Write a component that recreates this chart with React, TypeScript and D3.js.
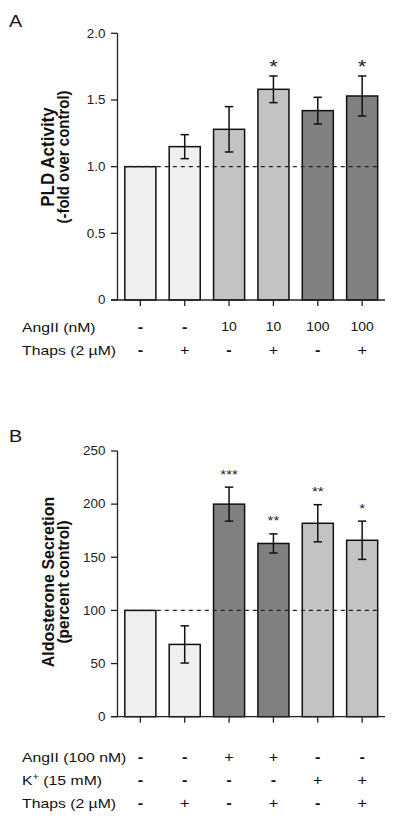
import React from "react";
import * as d3 from "d3";

// ---------- Panel A data ----------
const aIndex = [0, 1, 2, 3, 4, 5];
const aAngII = ["-", "-", "10", "10", "100", "100"];
const aThaps = ["-", "+", "-", "+", "-", "+"];
const aValues = [1.0, 1.15, 1.28, 1.58, 1.42, 1.53];
const aErrors = [0, 0.09, 0.17, 0.1, 0.1, 0.15];
const aStars = ["", "", "", "*", "", "*"];
const aGroups = ["control", "control", "AngII 10", "AngII 10", "AngII 100", "AngII 100"];
const aTicks = [0, 0.5, 1.0, 1.5, 2.0];
const aTickLabels = ["0", "0.5", "1.0", "1.5", "2.0"];
const aRowLabels = ["AngII (nM)", "Thaps (2 \u00B5M)"];

// ---------- Panel B data ----------
const bIndex = [0, 1, 2, 3, 4, 5];
const bAngII = ["-", "-", "+", "+", "-", "-"];
const bK = ["-", "-", "-", "-", "+", "+"];
const bThaps = ["-", "+", "-", "+", "-", "+"];
const bValues = [100, 68, 200, 163, 182, 166];
const bErrors = [0, 17.5, 16, 9, 17.5, 18];
const bStars = ["", "", "***", "**", "**", "*"];
const bGroups = ["control", "control", "AngII", "AngII", "K", "K"];
const bTicks = [0, 50, 100, 150, 200, 250];
const bTickLabels = ["0", "50", "100", "150", "200", "250"];
const bRowLabels = ["AngII (100 nM)", "K", "Thaps (2 \u00B5M)"];

const FONT = "'Liberation Sans', Arial, Helvetica, sans-serif";
const SX = 1.16; // horizontal widening of glyphs seen in the reference

const colorA = d3
  .scaleOrdinal<string, string>()
  .domain(["control", "AngII 10", "AngII 100"])
  .range(["#efefef", "#c3c3c3", "#808080"]);
const colorB = d3
  .scaleOrdinal<string, string>()
  .domain(["control", "AngII", "K"])
  .range(["#efefef", "#808080", "#c3c3c3"]);

function HText(props: {
  x: number;
  y: number;
  size: number;
  anchor?: string;
  weight?: string;
  fill?: string;
  sx?: number;
  children: React.ReactNode;
}) {
  const sx = props.sx ?? SX;
  return (
    <text
      transform={`translate(${props.x},${props.y}) scale(${sx},1)`}
      dy="0.35em"
      textAnchor={props.anchor ?? "start"}
      fontFamily={FONT}
      fontSize={props.size}
      fontWeight={props.weight ?? "normal"}
      fill={props.fill ?? "#111"}
    >
      {props.children}
    </text>
  );
}

type PanelProps = {
  letter: string;
  letterY: number;
  index: number[];
  values: number[];
  errors: number[];
  stars: string[];
  groups: string[];
  color: d3.ScaleOrdinal<string, string>;
  ticks: number[];
  tickLabels: string[];
  domainMax: number;
  yTop: number;
  yBottom: number;
  refValue: number;
  starSize: number;
  starGap: number;
  labelLines: string[];
  labelSizes: number[];
  labelCenterY: number;
  rows: { label: React.ReactNode; values: string[]; y: number }[];
};

function Panel(p: PanelProps) {
  const x = d3
    .scaleBand<number>()
    .domain(p.index)
    .range([117.5, 385])
    .paddingInner(0.3)
    .paddingOuter(0.165);
  const y = d3.scaleLinear().domain([0, p.domainMax]).range([p.yBottom, p.yTop]);
  const bw = x.bandwidth();
  const cap = 4.2;
  const last = p.index[p.index.length - 1];
  return (
    <g>
      <HText x={9} y={p.letterY} size={17}>
        {p.letter}
      </HText>
      {/* y label */}
      <text
        transform={`translate(54, ${p.labelCenterY}) scale(1.06,1) rotate(-90)`}
        textAnchor="middle"
        fontFamily={FONT}
        fontWeight="bold"
        fontSize={p.labelSizes[0]}
        fill="#111"
      >
        {p.labelLines[0]}
      </text>
      <text
        transform={`translate(68.5, ${p.labelCenterY}) scale(1.06,1) rotate(-90)`}
        textAnchor="middle"
        fontFamily={FONT}
        fontWeight="bold"
        fontSize={p.labelSizes[1]}
        fill="#111"
      >
        {p.labelLines[1]}
      </text>
      {/* bars */}
      {p.index.map((i) => (
        <rect
          key={"b" + i}
          x={x(i)!}
          y={y(p.values[i])}
          width={bw}
          height={y(0) - y(p.values[i])}
          fill={p.color(p.groups[i])}
          stroke="#111"
          strokeWidth={1.5}
        />
      ))}
      {/* error bars */}
      {p.index.map((i) => {
        if (!p.errors[i]) return null;
        const cx = x(i)! + bw / 2;
        const hi = y(p.values[i] + p.errors[i]);
        const lo = y(p.values[i] - p.errors[i]);
        return (
          <g key={"e" + i} stroke="#111" strokeWidth={1.5}>
            <line x1={cx} x2={cx} y1={hi} y2={lo} />
            <line x1={cx - cap} x2={cx + cap} y1={hi} y2={hi} />
            <line x1={cx - cap} x2={cx + cap} y1={lo} y2={lo} />
          </g>
        );
      })}
      {/* stars */}
      {p.index.map((i) =>
        p.stars[i] ? (
          <text
            key={"s" + i}
            transform={`translate(${x(i)! + bw / 2},${y(p.values[i] + p.errors[i]) - p.starGap}) scale(${SX},1)`}
            textAnchor="middle"
            fontFamily={FONT}
            fontSize={p.starSize}
            fill="#222"
          >
            {p.stars[i]}
          </text>
        ) : null
      )}
      {/* dashed reference line */}
      <line
        x1={x(0)!}
        x2={x(last)! + bw}
        y1={y(p.refValue)}
        y2={y(p.refValue)}
        stroke="#222"
        strokeWidth={1.3}
        strokeDasharray="4,4"
      />
      {/* y axis */}
      <line x1={117.5} x2={117.5} y1={p.yTop} y2={p.yBottom} stroke="#222" strokeWidth={1.3} />
      {p.ticks.map((t, k) => (
        <g key={"t" + k}>
          <line x1={111} x2={117.5} y1={y(t)} y2={y(t)} stroke="#222" strokeWidth={1.3} />
          <HText x={105.5} y={y(t)} size={12.2} anchor="end" fill="#222" sx={1.1}>
            {p.tickLabels[k]}
          </HText>
        </g>
      ))}
      {/* x axis */}
      <line x1={111} x2={385} y1={y(0)} y2={y(0)} stroke="#222" strokeWidth={1.3} />
      {p.index.map((i) => (
        <line
          key={"xt" + i}
          x1={x(i)! + bw / 2}
          x2={x(i)! + bw / 2}
          y1={y(0)}
          y2={y(0) + 6}
          stroke="#222"
          strokeWidth={1.3}
        />
      ))}
      {/* condition rows */}
      {p.rows.map((r, ri) => (
        <g key={"r" + ri}>
          <HText x={22} y={r.y} size={13.6}>
            {r.label}
          </HText>
          {p.index.map((i) => (
            <HText
              key={"rv" + i}
              x={x(i)! + bw / 2}
              y={r.y}
              anchor="middle"
              size={r.values[i].length > 1 ? 12 : 14}
              weight={r.values[i] === "-" ? "bold" : "normal"}
            >
              {r.values[i]}
            </HText>
          ))}
        </g>
      ))}
    </g>
  );
}

export default function App() {
  return (
    <svg
      width={400}
      height={820}
      style={{ position: "absolute", left: 0, top: 0, background: "#fff" }}
    >
      <rect width={400} height={820} fill="#fff" />
      <Panel
        letter="A"
        letterY={21}
        index={aIndex}
        values={aValues}
        errors={aErrors}
        stars={aStars}
        groups={aGroups}
        color={colorA}
        ticks={aTicks}
        tickLabels={aTickLabels}
        domainMax={2.0}
        yTop={33.3}
        yBottom={300}
        refValue={1.0}
        starSize={19}
        starGap={2.5}
        labelLines={["PLD Activity", "(-fold over control)"]}
        labelSizes={[17, 15]}
        labelCenterY={157}
        rows={[
          { label: aRowLabels[0], values: aAngII, y: 327 },
          { label: aRowLabels[1], values: aThaps, y: 350 },
        ]}
      />
      <Panel
        letter="B"
        letterY={436}
        index={bIndex}
        values={bValues}
        errors={bErrors}
        stars={bStars}
        groups={bGroups}
        color={colorB}
        ticks={bTicks}
        tickLabels={bTickLabels}
        domainMax={250}
        yTop={451}
        yBottom={716.7}
        refValue={100}
        starSize={13}
        starGap={8.5}
        labelLines={["Aldosterone Secretion", "(percent control)"]}
        labelSizes={[16, 15.5]}
        labelCenterY={582}
        rows={[
          { label: bRowLabels[0], values: bAngII, y: 757 },
          {
            label: (
              <>
                {bRowLabels[1]}
                <tspan fontSize={9.5} dy="-5">+</tspan>
                <tspan dy="5"> (15 mM)</tspan>
              </>
            ),
            values: bK,
            y: 780,
          },
          { label: bRowLabels[2], values: bThaps, y: 803 },
        ]}
      />
    </svg>
  );
}
